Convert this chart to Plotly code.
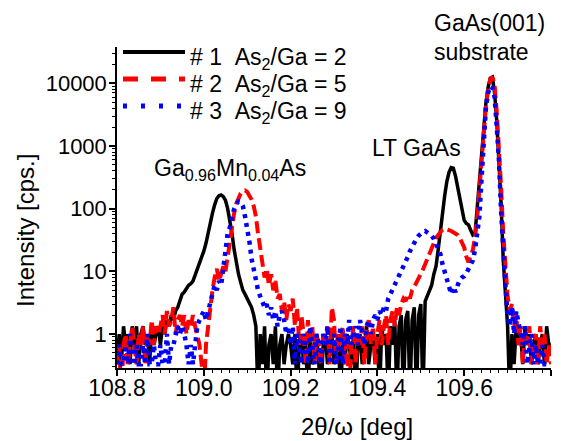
import plotly.graph_objects as go

# ---------------- data ----------------
X_START = 108.8
X_STEP = 0.005
N_POINTS = 201
two_theta = [round(X_START + i * X_STEP, 3) for i in range(N_POINTS)]

# value 0.1 = zero counts (falls below the visible axis range)
sample1_as2ga_2 = (
    [0.33, 1, 0.33, 1.33, 0.67, 1, 0.33, 1.33, 0.67, 1.33, 0.33, 1, 1.33, 0.67, 1, 0.33, 1.33, 0.67, 1, 1.33]
    + [0.67, 1.33, 1, 1.67, 1.33, 2, 1.67, 2.33, 2.67, 3.33, 4.33, 4.67, 5.33, 6, 6.33, 7, 8.67, 10.7, 13, 16]
    + [21, 28, 42, 58, 85, 115, 145, 160, 165, 155, 135, 100, 65, 40, 22, 13, 9, 6.67, 5, 4.33]
    + [3.67, 3, 2.67, 2, 1.33, 0.1, 1, 0.33, 1.33, 0.1, 0.67, 1, 0.33, 1.33, 0.1, 0.67, 1, 0.33, 0.67, 1]
    + [0.67, 0.33, 1, 0.1, 0.67, 1, 0.33, 0.67, 0.1, 1, 0.33, 0.67, 1, 0.33, 0.1, 0.67, 1, 0.33, 0.67, 1]
    + [0.33, 0.67, 1, 0.1, 0.67, 0.33, 1, 0.67, 0.33, 1, 0.1, 0.67, 1, 0.33, 0.67, 1.33, 0.33, 0.67, 1, 0.33]
    + [1, 0.1, 1.33, 0.67, 1, 0.1, 1.33, 0.67, 1.67, 0.1, 1.33, 2, 0.1, 1.67, 2.33, 0.1, 1.67, 2.67, 0.1, 2]
    + [3, 0.1, 3.33, 4, 4.67, 6, 9, 12, 22, 45, 85, 160, 270, 380, 450, 440, 330, 220, 130, 85]
    + [65, 58, 55, 45, 38, 40, 100, 300, 900, 2200, 4800, 8500, 12000, 12500, 7000, 2500, 700, 120, 15, 4]
    + [1.33, 0.1, 1, 0.33, 1.33, 0.67, 1, 0.33, 1.33, 0.67, 1, 0.33, 0.67, 1, 0.33, 0.67, 1, 0.33, 1.33, 0.67]
    + [0.67]
)

sample2_as2ga_5 = (
    [0.33, 0.67, 0.1, 0.67, 1, 0.33, 0.67, 1.33, 0.67, 0.33, 1, 0.67, 1.33, 0.33, 1, 0.67, 1.67, 0.67, 1.33, 1]
    + [1.33, 2, 1, 2.33, 1.33, 1.67, 2.67, 1, 1.67, 2, 1.33, 2, 1, 1.67, 1.33, 2, 1.33, 1, 0.67, 0.33]
    + [0.1, 0.67, 1.33, 3, 5, 8, 11, 7, 9, 12, 10, 18, 30, 55, 85, 120, 150, 175, 190, 195]
    + [185, 165, 140, 110, 75, 40, 22, 12, 8, 11, 6, 9, 5, 7, 3.67, 4.33, 2.33, 3.33, 1.67, 3]
    + [2.33, 3.67, 1.33, 2.67, 0.67, 2, 1, 0.33, 1.67, 0.67, 1.33, 0.33, 1, 0.67, 0.33, 1, 0.67, 1.33, 0.33, 2.67]
    + [1.67, 0.33, 1, 0.67, 1.33, 0.33, 1, 0.1, 0.67, 1.33, 0.33, 1, 0.67, 1.33, 0.33, 1, 1.67, 0.67, 1.33, 0.33]
    + [1, 1.67, 0.67, 1.33, 2, 0.67, 1.67, 2.33, 1.33, 2.67, 2, 3, 3.67, 3.33, 4.33, 3.67, 5, 5.67, 6.67, 7.33]
    + [8.67, 10.7, 13, 16, 20, 24, 29, 34, 38, 42, 46, 48, 47, 45, 44, 42, 40, 38, 34, 29]
    + [24, 17, 14, 18, 22, 35, 70, 200, 600, 1800, 4200, 8000, 11500, 12500, 9500, 3500, 1000, 220, 40, 9]
    + [4, 2.33, 3, 1.33, 2, 0.67, 1.33, 0.33, 1, 0.67, 1.33, 0.33, 0.67, 1, 0.33, 1.33, 0.67, 1, 0.33, 0.67]
    + [0.33]
)

sample3_as2ga_9 = (
    [0.33, 0.67, 0.33, 0.33, 0.67, 0.33, 1, 0.33, 0.33, 0.67, 0.33, 0.33, 0.67, 0.33, 1, 0.33, 0.33, 0.67, 0.33, 0.33]
    + [0.67, 0.33, 0.33, 1, 0.33, 0.67, 0.67, 1, 1.33, 1, 1.33, 1, 0.67, 0.33, 0.67, 0.33, 0.67, 1.33, 1.67, 2]
    + [2.33, 1.67, 2.33, 3, 4.67, 6, 5, 7, 6, 12, 25, 40, 50, 75, 100, 120, 130, 128, 110, 75]
    + [50, 30, 16, 10, 7, 5, 4, 3.33, 2.67, 3, 2, 2.67, 1.67, 2.33, 1.33, 2, 2.33, 1.67, 1, 1.33]
    + [0.67, 1.33, 0.33, 1, 0.67, 0.33, 1, 0.67, 0.33, 1.33, 0.67, 0.33, 1, 0.67, 0.33, 1, 0.67, 1.33, 0.33, 0.67]
    + [1, 0.33, 0.67, 1.33, 0.33, 1, 0.67, 1.67, 0.67, 1, 1.33, 0.67, 1.67, 1, 0.67, 1.33, 1.67, 1, 1.67, 2]
    + [1.67, 2.33, 2, 2.67, 2.33, 3.67, 4.33, 5, 6.33, 7.33, 8.33, 10, 12, 14, 17, 21, 25, 29, 33, 37]
    + [40, 43, 44, 42, 39, 37, 33, 27, 22, 19, 13, 10, 8, 5.5, 4.33, 5.67, 4.67, 6, 7.33, 8]
    + [8.33, 9.33, 11, 12, 15, 22, 40, 75, 300, 1500, 4000, 7000, 9000, 8500, 6000, 2000, 600, 90, 18, 6]
    + [2, 1.33, 2.67, 1, 2.33, 1.33, 1, 0.67, 1.33, 0.33, 0.67, 1, 0.33, 0.67, 0.33, 0.33, 0.67, 0.33, 0.33, 0.33]
    + [0.33]
)

assert len(sample1_as2ga_2) == N_POINTS
assert len(sample2_as2ga_5) == N_POINTS
assert len(sample3_as2ga_9) == N_POINTS

x_tick_vals = [108.8, 109.0, 109.2, 109.4, 109.6, 109.8]
x_tick_text = ["108.8", "109.0", "109.2", "109.4", "109.6", "109.8"]
y_tick_vals = [1, 10, 100, 1000, 10000]
y_tick_text = ["1", "10", "100", "1000", "10000"]

legend_names = [
    "#\u00a01\u00a0\u00a0As<sub>2</sub>/Ga = 2",
    "#\u00a02\u00a0\u00a0As<sub>2</sub>/Ga = 5",
    "#\u00a03\u00a0\u00a0As<sub>2</sub>/Ga = 9",
]

# ---------------- styling ----------------
FONT = "Liberation Sans, Arial, sans-serif"
OFF = 8                      # page body margin of the html page
W, H = 578 - OFF, 441 - OFF  # figure fits exactly into the window
# plot area in window pixels: x 117..551, y 47..368
L, T = 117 - OFF, 47 - OFF
R, B = 578 - 551, 441 - 368
PW, PH = W - L - R, H - T - B


def fx(px):
    return (px - OFF - L) / PW


def fy(py):
    return (H - B - (py - OFF)) / PH


styles = [
    dict(color="#000000", width=3.5),
    dict(color="#ff0000", width=4, dash="12px,5px"),
    dict(color="#0000ff", width=4.5, dash="4px,5px"),
]
legend_styles = [
    dict(color="#000000", width=4),
    dict(color="#ff0000", width=5, dash="15px,13px"),
    dict(color="#0000ff", width=5, dash="4px,14px"),
]

fig = go.Figure()
for ys, st, nm in zip([sample1_as2ga_2, sample2_as2ga_5, sample3_as2ga_9], styles, legend_names):
    fig.add_trace(go.Scatter(x=two_theta, y=ys, mode="lines", line=st, name=nm,
                             showlegend=False, hoverinfo="x+y"))

minor_y = [m * 10 ** e for e in range(-1, 5) for m in range(2, 10)]

fig.update_layout(
    width=W, height=H,
    margin=dict(l=L, r=R, t=T, b=B, autoexpand=False),
    paper_bgcolor="white", plot_bgcolor="white",
    font=dict(family=FONT, size=22, color="black"),
    showlegend=False,
    xaxis=dict(
        range=[108.8, 109.8], tickmode="array", tickvals=x_tick_vals, ticktext=x_tick_text,
        ticks="outside", ticklen=6, tickwidth=1.5, tickcolor="black", automargin=False,
        ticklabelstandoff=-7,
        showline=True, linewidth=1.5, linecolor="black", mirror=False,
        showgrid=False, zeroline=False, tickfont=dict(size=23),
        minor=dict(dtick=0.02, tick0=108.8, ticks="outside", ticklen=3, tickwidth=1, tickcolor="black", showgrid=False),
    ),
    yaxis=dict(
        type="log", range=[-0.542, 4.578], tickmode="array", tickvals=y_tick_vals, ticktext=y_tick_text,
        ticks="outside", ticklen=6, tickwidth=1.5, tickcolor="black", automargin=False,
        ticklabelstandoff=-2,
        showline=True, linewidth=1.5, linecolor="black", mirror=False,
        showgrid=False, zeroline=False, tickfont=dict(size=22),
        minor=dict(tickmode="array", tickvals=minor_y, ticks="outside", ticklen=3.5, tickwidth=1,
                   tickcolor="black", showgrid=False),
    ),
)

annotations = []
# axis titles
annotations.append(dict(text="2\u03b8/\u03c9 [deg]", x=fx(357), y=fy(427), xref="paper", yref="paper",
                        xanchor="center", yanchor="middle", showarrow=False, font=dict(size=24)))
annotations.append(dict(text="Intensity [cps.]", x=fx(25), y=fy(231), xref="paper", yref="paper",
                        xanchor="center", yanchor="middle", textangle=-90, showarrow=False, font=dict(size=24)))
# peak labels
annotations.append(dict(text="Ga<sub>0.96</sub>Mn<sub>0.04</sub>As", x=fx(152), y=fy(169), xref="paper", yref="paper",
                        xanchor="left", yanchor="middle", showarrow=False, font=dict(size=23)))
annotations.append(dict(text="LT GaAs", x=fx(370), y=fy(148), xref="paper", yref="paper",
                        xanchor="left", yanchor="middle", showarrow=False, font=dict(size=23)))
annotations.append(dict(text="GaAs(001)", x=fx(432), y=fy(23), xref="paper", yref="paper",
                        xanchor="left", yanchor="middle", showarrow=False, font=dict(size=23)))
annotations.append(dict(text="substrate", x=fx(432), y=fy(52), xref="paper", yref="paper",
                        xanchor="left", yanchor="middle", showarrow=False, font=dict(size=23)))

# legend (manual, to match the long sample lines of the original)
shapes = []
rows_y = [52, 79, 106]
for ry, st, nm in zip(rows_y, legend_styles, legend_names):
    shapes.append(dict(type="line", xref="paper", yref="paper", x0=fx(123), x1=fx(185), y0=fy(ry), y1=fy(ry),
                       line=st))
    annotations.append(dict(text=nm, x=fx(188), y=fy(ry + 6), xref="paper", yref="paper",
                            xanchor="left", yanchor="middle", showarrow=False, font=dict(size=23)))

fig.update_layout(annotations=annotations, shapes=shapes)
fig.write_html("out.html")
